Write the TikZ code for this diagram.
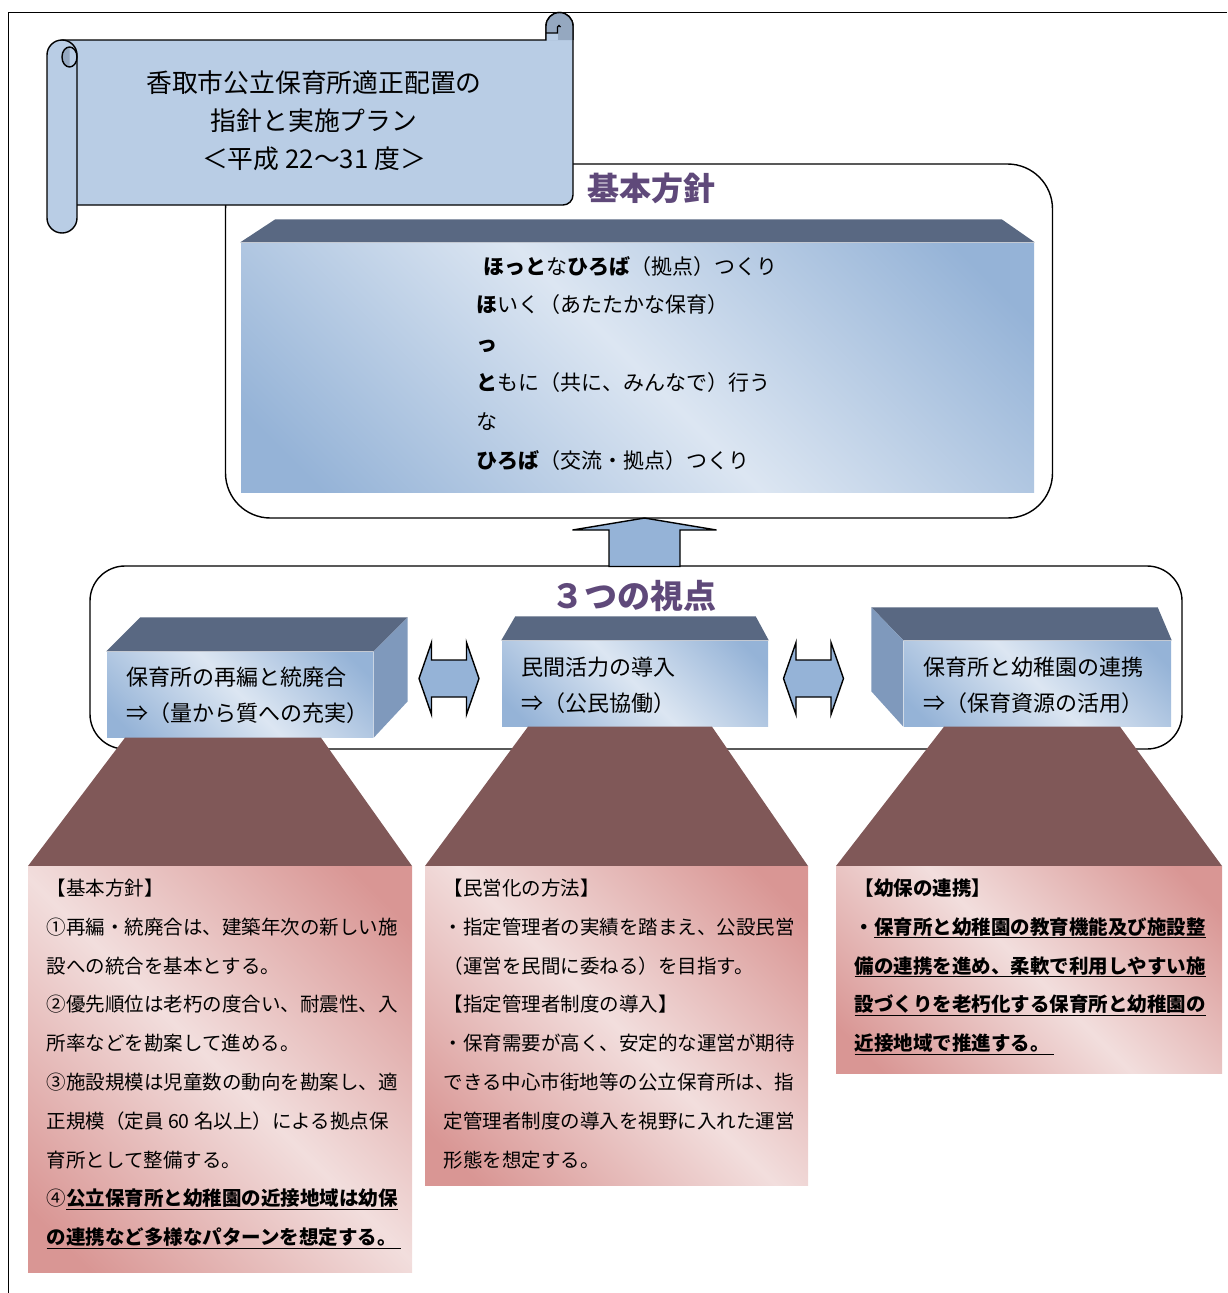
\documentclass[tikz,border=0pt]{standalone}
\usepackage{fontspec}
\setmainfont{Noto Sans CJK JP}
\usepackage{tikz}
\usetikzlibrary{calc}

\definecolor{scrollBlue}{RGB}{185,205,229}
\definecolor{curlBlue}{RGB}{149,168,192}
\definecolor{faceLight}{RGB}{220,230,242}
\definecolor{faceDark}{RGB}{149,179,215}
\definecolor{topSlate}{RGB}{89,104,130}
\definecolor{sideBlue}{RGB}{127,153,188}
\definecolor{rayBrown}{RGB}{128,88,88}
\definecolor{pinkLight}{RGB}{242,222,221}
\definecolor{pinkDark}{RGB}{217,150,148}
\definecolor{titlePurple}{RGB}{95,73,122}
\definecolor{arrowBlue}{RGB}{149,179,215}

\pgfdeclarehorizontalshading{bluefront}{100bp}{color(0bp)=(faceDark); color(20bp)=(faceDark); color(50bp)=(faceLight); color(80bp)=(faceDark); color(100bp)=(faceDark)}
\pgfdeclarehorizontalshading{pinkfront}{100bp}{color(0bp)=(pinkDark); color(20bp)=(pinkDark); color(50bp)=(pinkLight); color(80bp)=(pinkDark); color(100bp)=(pinkDark)}

\begin{document}
\begin{tikzpicture}[x=1pt, y=1pt, line width=1.4pt,
    roundframe/.style={draw, fill=white, rounded corners=#1},
    front/.style={shade, shading=bluefront, shading angle=45, inner sep=0pt},
    notebox/.style={shade, shading=pinkfront, shading angle=45, inner sep=0pt},
    topface/.style={fill=topSlate},
    sideface/.style={fill=sideBlue},
    ray/.style={fill=rayBrown},
    blockarrow/.style={draw, fill=arrowBlue, line join=miter},
    heading/.style={anchor=base, inner sep=0pt, text=titlePurple, font=\bfseries\fontsize{#1}{#1}\selectfont},
    boxtext/.style={anchor=base west, align=left, inner sep=0pt, font=\fontsize{#1}{36.3}\selectfont},
    notetext/.style={anchor=base west, align=left, inner sep=0pt, font=\fontsize{19.5}{38.8}\selectfont},
    duo/.pic={\draw[blockarrow] (-30,0) -- (-17.5,36) -- (-17.5,18.5) -- (17.5,18.5) -- (17.5,36) -- (30,0)
        -- (17.5,-36) -- (17.5,-18.5) -- (-17.5,-18.5) -- (-17.5,-36) -- cycle;},
    rise/.pic={\draw[blockarrow] (-35.5,0) -- (-35.5,36.5) -- (-72,36.5) -- (0,48.5) -- (72,36.5)
        -- (35.5,36.5) -- (35.5,0) -- cycle;}]
    \useasboundingbox (0,0) rectangle (1227,-1293);
    \draw (8.5,-1293) -- (8.5,-12.5) -- (1227,-12.5);

    % Basic policy (text nodes sit on the baseline of their last line)
    \node[roundframe=45pt, minimum width=827pt, minimum height=354pt] (policyframe) at (639,-341) {};
    \node[front, minimum width=793pt, minimum height=249pt] (policy) at (637.5,-367.5) {};
    \fill[topface] (policy.north west) -- ++(35,23) -- ($(policy.north east)+(-33,23)$) -- (policy.north east) -- cycle;
    \node[heading=32] (policyhead) at (651.5,-200) {基本方針};
    \node[boxtext=21, font=\fontsize{21}{38.8}\selectfont] (policytext) at (476,-468) {%
        \hspace*{7pt}\textbf{ほっと}な\textbf{ひろば}（拠点）つくり\\
        \textbf{ほ}いく（あたたかな保育）\\
        \textbf{っ}\\
        \textbf{と}もに（共に、みんなで）行う\\
        な\\
        \textbf{ひろば}（交流・拠点）つくり};

    % Scroll
    \draw[fill=scrollBlue] (62,-40) -- (546,-40) -- (546,-26) arc[start angle=180, end angle=0, radius=13.5]
        -- (573,-195) arc[start angle=0, end angle=-90, radius=10] -- (62,-205) -- cycle;
    \fill[curlBlue] (546,-40) -- (546,-26) arc[start angle=180, end angle=0, radius=13.5] -- (573,-40) -- cycle;
    \fill[scrollBlue] (546,-33) rectangle (557.5,-40);
    \draw (546,-40) -- (546,-26) arc[start angle=180, end angle=0, radius=13.5] -- (573,-40);
    \draw (546,-33) -- (557.5,-33) -- (557.5,-27) arc[start angle=180, end angle=0, radius=1.5];
    \draw[fill=scrollBlue] (47,-218) -- (47,-55) arc[start angle=180, end angle=0, radius=15]
        -- (77,-218) arc[start angle=0, end angle=-180, radius=15] -- cycle;
    \begin{scope}
        \clip (62,-44) rectangle (69.5,-70);
        \fill[curlBlue] (69.5,-57) ellipse[x radius=7.5, y radius=10];
    \end{scope}
    \draw (69.5,-57) ellipse[x radius=7.5, y radius=10];
    \node[anchor=base, align=center, inner sep=0pt, font=\fontsize{25.8}{38}\selectfont] (scrolltitle) at (314,-168.5) {%
        香取市公立保育所適正配置の\\
        指針と実施プラン\\
        ＜平成 22～31 度＞};

    % Three viewpoints
    \node[roundframe=35pt, minimum width=1092pt, minimum height=183pt] (viewsframe) at (636,-657.5) {};
    \pic at (644.5,-566.5) {rise};
    \node[heading=33] (viewshead) at (633.5,-608.5) {３つの視点};

    % Boxes
    \node[front, minimum width=266pt, minimum height=85pt] (reorg) at (240,-694.5) {};
    \node[front, minimum width=266pt, minimum height=85pt] (privat) at (635,-683.5) {};
    \node[front, minimum width=267pt, minimum height=85pt] (linkage) at (1037.5,-683.5) {};

    % Rays
    \fill[ray] ($(reorg.south)+(-115,0)$) -- ($(reorg.south)+(81,0)$) -- (412,-866) -- (28,-866) -- cycle;
    \fill[ray] ($(privat.south)+(-107,0)$) -- ($(privat.south)+(77,0)$) -- (808,-866) -- (425,-866) -- cycle;
    \fill[ray] ($(linkage.south)+(-93.5,0)$) -- ($(linkage.south)+(82.5,0)$) -- (1222,-866) -- (836,-866) -- cycle;

    \fill[topface] (reorg.north west) -- ++(34,34) -- ($(reorg.north east)+(34,34)$) -- (reorg.north east) -- cycle;
    \fill[sideface] (reorg.north east) -- ++(34,34) -- ++(0,-84) -- (reorg.south east) -- cycle;
    \fill[topface] (privat.north west) -- ++(14,24) -- ($(privat.north east)+(-13,24)$) -- (privat.north east) -- cycle;
    \fill[topface] (linkage.north west) -- ++(-32,33) -- ($(linkage.north east)+(-14,33)$) -- (linkage.north east) -- cycle;
    \fill[sideface] (linkage.north west) -- ++(-32,33) -- ++(0,-84) -- (linkage.south west) -- cycle;

    \node[boxtext=22] (reorgtext) at (126,-721.3) {保育所の再編と統廃合\\⇒（量から質への充実）};
    \node[boxtext=22] (privattext) at (521,-711.3) {民間活力の導入\\⇒（公民協働）};
    \node[boxtext=22] (linkagetext) at (923,-711.3) {保育所と幼稚園の連携\\⇒（保育資源の活用）};

    \pic at (449,-678.5) {duo};
    \pic at (813.5,-678.5) {duo};

    % Notes
    \node[notebox, minimum width=384pt, minimum height=406pt] (basis) at (220,-1069) {};
    \node[notebox, minimum width=383pt, minimum height=319pt] (method) at (616.5,-1025.5) {};
    \node[notebox, minimum width=386pt, minimum height=207pt] (kinder) at (1029,-969.5) {};

    \node[notetext] (basistext) at (46,-1244.6) {%
        【基本方針】\\
        ①再編・統廃合は、建築年次の新しい施\\
        設への統合を基本とする。\\
        ②優先順位は老朽の度合い、耐震性、入\\
        所率などを勘案して進める。\\
        ③施設規模は児童数の動向を勘案し、適\\
        正規模（定員 60 名以上）による拠点保\\
        育所として整備する。\\
        ④\underline{\textbf{公立保育所と幼稚園の近接地域は幼保}}\\
        \underline{\textbf{の連携など多様なパターンを想定する。\hspace{0.2em}}}};
    \node[notetext] (methodtext) at (443,-1167) {%
        【民営化の方法】\\
        ・指定管理者の実績を踏まえ、公設民営\\
        （運営を民間に委ねる）を目指す。\\
        【指定管理者制度の導入】\\
        ・保育需要が高く、安定的な運営が期待\\
        できる中心市街地等の公立保育所は、指\\
        定管理者制度の導入を視野に入れた運営\\
        形態を想定する。};
    \node[notetext] (kindertext) at (854,-1050.6) {%
        \textbf{【幼保の連携】}\\
        \textbf{・}\underline{\textbf{保育所と幼稚園の教育機能及び施設整}}\\
        \underline{\textbf{備の連携を進め、柔軟で利用しやすい施}}\\
        \underline{\textbf{設づくりを老朽化する保育所と幼稚園の}}\\
        \underline{\textbf{近接地域で推進する。\hspace{0.2em}}}};
\end{tikzpicture}
\end{document}
